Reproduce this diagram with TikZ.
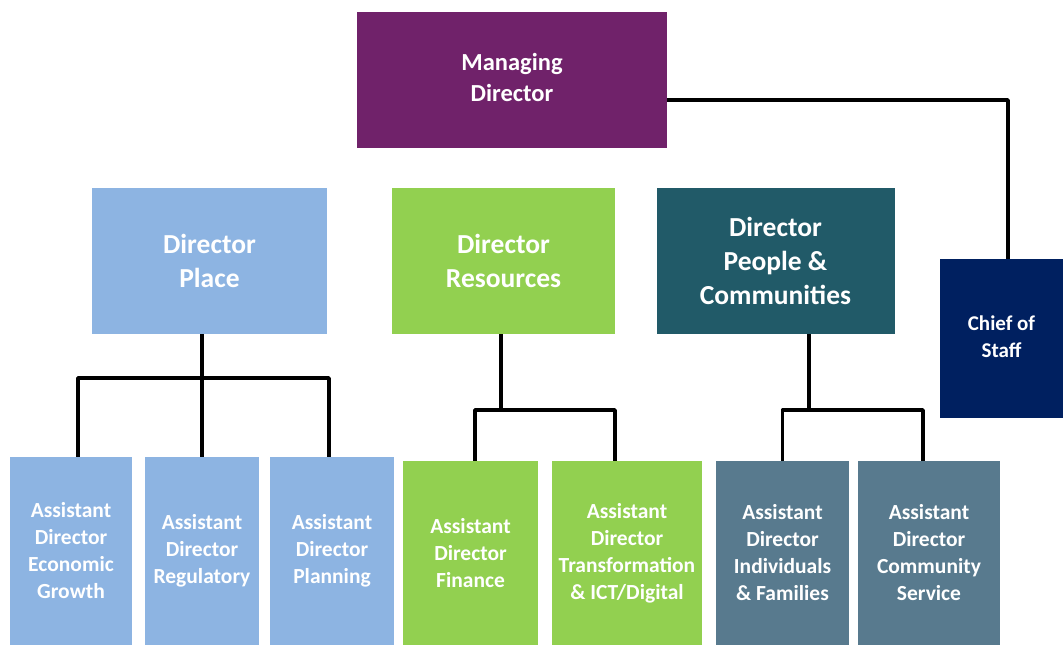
\documentclass[tikz,border=0pt]{standalone}
\usepackage{fontspec}
\setmainfont{Carlito}
\usetikzlibrary{positioning}
\definecolor{mdpurple}{HTML}{70226A}
\definecolor{placeblue}{HTML}{8DB4E2}
\definecolor{resgreen}{HTML}{92D050}
\definecolor{pplteal}{HTML}{215A68}
\definecolor{cosnavy}{HTML}{002060}
\definecolor{adslate}{HTML}{587A8E}

\begin{document}
\begin{tikzpicture}[x=1pt,y=-1pt,
	box/.style={draw=none, text=white, align=center, inner sep=0pt, font=\bfseries},
	bigfont/.style={font=\bfseries\fontsize{27.5}{34}\selectfont},
	adfont/.style={font=\bfseries\fontsize{21.5}{27}\selectfont},
	conn/.style={draw=black, line width=3.5pt, line join=round}]
\useasboundingbox (0,0) rectangle (1063,645);
\node[box, fill=mdpurple, minimum width=310, minimum height=136, font=\bfseries\fontsize{24.5}{31}\selectfont](md) at (512,80){\raisebox{3pt}{\begin{tabular}{@{}c@{}}Managing\\Director\end{tabular}}};
\node[box, bigfont, fill=placeblue, minimum width=235, minimum height=146](place) at (209.5,261){Director\\Place};
\node[box, bigfont, fill=resgreen, minimum width=223, minimum height=146](res) at (503.5,261){Director\\Resources};
\node[box, bigfont, fill=pplteal, minimum width=238, minimum height=146](ppl) at (775.5,261){Director\\People \&\\Communities};
\node[box, fill=cosnavy, minimum width=123, minimum height=159, font=\bfseries\fontsize{21}{27}\selectfont](cos) at (1001.5,338.5){\raisebox{-14pt}{\begin{tabular}{@{}c@{}}Chief of\\Staff\end{tabular}}};
\node[box, adfont, fill=placeblue, minimum width=122, minimum height=188](aeg) at (71,551){Assistant\\Director\\Economic\\Growth};
\node[box, adfont, fill=placeblue, minimum width=114, minimum height=188](areg) at (202,551){Assistant\\Director\\Regulatory};
\node[box, adfont, fill=placeblue, minimum width=124, minimum height=188](apl) at (332,551){Assistant\\Director\\Planning};
\node[box, adfont, fill=resgreen, minimum width=135, minimum height=184](afin) at (470.5,553){Assistant\\Director\\Finance};
\node[box, adfont, fill=resgreen, minimum width=150, minimum height=184](atr) at (627,553){Assistant\\Director\\Transformation\\\& ICT/Digital};
\node[box, adfont, fill=adslate, minimum width=133, minimum height=184](aind) at (782.5,553){Assistant\\Director\\Individuals\\\& Families};
\node[box, adfont, fill=adslate, minimum width=142, minimum height=184](acs) at (929,553){Assistant\\Director\\Community\\Service};
\coordinate (pbus) at (0,378);
\coordinate (rbus) at (0,410);
\draw[conn] ([yshift=-20pt]md.east) -| ([xshift=6.5pt]cos.north);
\draw[conn] (place.south -| areg.north) -- (areg.north) ([xshift=7pt]aeg.north) -- ([xshift=7pt]aeg.north |- pbus) -| ([xshift=-3pt]apl.north);
\draw[conn] ([xshift=-2.5pt]res.south) -- ([xshift=-2.5pt]res.south |- rbus) ([xshift=4.5pt]afin.north) -- ([xshift=4.5pt]afin.north |- rbus) -| ([xshift=-12pt]atr.north);
\draw[conn] ([xshift=33.5pt]ppl.south) -- ([xshift=33.5pt]ppl.south |- rbus) (aind.north) -- (aind.north |- rbus) -| ([xshift=-6pt]acs.north);
\end{tikzpicture}
\end{document}
